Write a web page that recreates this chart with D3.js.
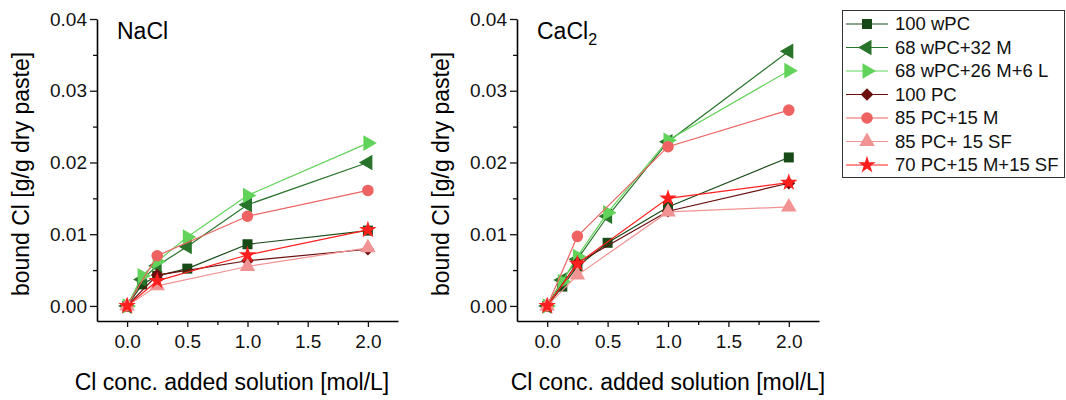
<!DOCTYPE html>
<html>
<head>
<meta charset="utf-8">
<script src="https://cdn.jsdelivr.net/npm/d3@7"></script>
<style>
  body { margin: 0; background: #fff; }
  svg { display: block; font-family: "Liberation Sans", Arial, sans-serif; }
</style>
</head>
<body>
<div id="chart"></div>
<script>
// Series names (legend order)
const seriesNames = ['100 wPC', '68 wPC+32 M', '68 wPC+26 M+6 L', '100 PC', '85 PC+15 M', '85 PC+ 15 SF', '70 PC+15 M+15 SF'];

// Cl concentrations of the added solution [mol/L]
const concWPC = [0, 0.125, 0.25, 0.5, 1.0, 2.0];
const concPC = [0, 0.25, 1.0, 2.0];

// NaCl: bound Cl [g/g dry paste]
const nacl100wPC = [0, 0.0030, 0.0042, 0.0052, 0.0086, 0.0105];
const nacl68wPC32M = [0, 0.0037, 0.0056, 0.0083, 0.0141, 0.0200];
const nacl68wPC26M6L = [0, 0.0042, 0.0062, 0.0096, 0.0154, 0.0227];
const nacl100PC = [0, 0.0043, 0.0063, 0.0079];
const nacl85PC15M = [0, 0.0070, 0.0125, 0.0161];
const nacl85PC15SF = [0, 0.0028, 0.0055, 0.0081];
const nacl70PC15M15SF = [0, 0.0035, 0.0071, 0.0106];

// CaCl2: bound Cl [g/g dry paste]
const cacl100wPC = [0, 0.0027, 0.0055, 0.0088, 0.0138, 0.0207];
const cacl68wPC32M = [0, 0.0036, 0.0065, 0.0125, 0.0229, 0.0355];
const cacl68wPC26M6L = [0, 0.0034, 0.0069, 0.0130, 0.0231, 0.0328];
const cacl100PC = [0, 0.0060, 0.0132, 0.0171];
const cacl85PC15M = [0, 0.0097, 0.0222, 0.0273];
const cacl85PC15SF = [0, 0.0043, 0.0131, 0.0138];
const cacl70PC15M15SF = [0, 0.0059, 0.0150, 0.0172];

// Axis ticks
const xTicks = [0, 0.5, 1.0, 1.5, 2.0];
const xMinor = [0.25, 0.75, 1.25, 1.75];
const yTicks = [0, 0.01, 0.02, 0.03, 0.04];
const yMinor = [0.005, 0.015, 0.025, 0.035];

const colors = ['#174a17', '#27742a', '#62d35a', '#6a0e0e', '#ee6262', '#f29393', '#ff1f1f'];

// marker shapes
function tri(rot) {
  const p = d3.symbol().type(d3.symbolTriangle).size(105)();
  return {path: p, rot: rot};
}
const markers = [
  {path: d3.symbol().type(d3.symbolSquare).size(100)(), rot: 0},
  tri(-90),
  tri(90),
  {path: d3.symbol().type(d3.symbolSquare).size(80)(), rot: 45},
  {path: d3.symbol().type(d3.symbolCircle).size(105)(), rot: 0},
  tri(0),
  {path: d3.symbol().type(d3.symbolStar).size(95)(), rot: 0}
];

const panels = [
  {label: 'NaCl', sub: '', left: 97, right: 398, titleX: 232,
   xs: [concWPC, concWPC, concWPC, concPC, concPC, concPC, concPC],
   ys: [nacl100wPC, nacl68wPC32M, nacl68wPC26M6L, nacl100PC, nacl85PC15M, nacl85PC15SF, nacl70PC15M15SF]},
  {label: 'CaCl', sub: '2', left: 517, right: 819, titleX: 668,
   xs: [concWPC, concWPC, concWPC, concPC, concPC, concPC, concPC],
   ys: [cacl100wPC, cacl68wPC32M, cacl68wPC26M6L, cacl100PC, cacl85PC15M, cacl85PC15SF, cacl70PC15M15SF]}
];

const svg = d3.select('#chart').append('svg')
  .attr('width', 1066)
  .attr('height', 400);

const plotTop = 19, plotBottom = 321;
const y = d3.scaleLinear().domain([-0.0021, 0.04]).range([plotBottom, plotTop]);

panels.forEach((p, pi) => {
  const x = d3.scaleLinear().domain([-0.25, 2.25]).range([p.left, p.right]);
  const g = svg.append('g');

  // y axis
  g.append('g')
    .attr('transform', `translate(${p.left},0)`)
    .call(d3.axisLeft(y).tickValues(yMinor).tickSize(4).tickFormat(''))
    .call(a => a.select('.domain').remove());
  const ya = g.append('g')
    .attr('transform', `translate(${p.left},0)`)
    .call(d3.axisLeft(y).tickValues(yTicks).tickSize(7).tickSizeOuter(0).tickPadding(3).tickFormat(d3.format('.2f')));
  ya.select('.domain').attr('stroke-width', 1.6);

  // x axis
  g.append('g')
    .attr('transform', `translate(0,${plotBottom})`)
    .call(d3.axisBottom(x).tickValues(xMinor).tickSize(4).tickFormat(''))
    .call(a => a.select('.domain').remove());
  const xa = g.append('g')
    .attr('transform', `translate(0,${plotBottom})`)
    .call(d3.axisBottom(x).tickValues(xTicks).tickSize(6).tickSizeOuter(0).tickPadding(8).tickFormat(d3.format('.1f')));
  xa.select('.domain').attr('stroke-width', 1.6);

  g.selectAll('.tick line').attr('stroke', '#111').attr('stroke-width', 1.3);
  g.selectAll('.tick text').style('font-size', '19px').attr('fill', '#111');

  // axis titles
  g.append('text')
    .attr('x', p.titleX)
    .attr('y', 390)
    .attr('text-anchor', 'middle')
    .style('font-size', '23px')
    .text('Cl conc. added solution [mol/L]');

  g.append('text')
    .attr('transform', `translate(${p.left - 68},${(plotTop + plotBottom) / 2 + 4}) rotate(-90)`)
    .attr('text-anchor', 'middle')
    .style('font-size', '23px')
    .text('bound Cl [g/g dry paste]');

  // panel label
  const lab = g.append('text')
    .attr('x', p.left + 20)
    .attr('y', 39)
    .style('font-size', '23px')
    .text(p.label);
  if (p.sub) {
    lab.append('tspan').attr('dy', 6).style('font-size', '16px').text(p.sub);
  }

  // series
  seriesNames.forEach((name, i) => {
    const pts = p.xs[i].map((c, k) => [c, p.ys[i][k]]);
    g.append('path')
      .datum(pts)
      .attr('fill', 'none')
      .attr('stroke', colors[i])
      .attr('stroke-width', 1.2)
      .attr('d', d3.line().x(d => x(d[0])).y(d => y(d[1])));
    g.selectAll(null)
      .data(pts)
      .enter()
      .append('path')
      .attr('d', markers[i].path)
      .attr('transform', d => `translate(${x(d[0])},${y(d[1])}) rotate(${markers[i].rot})`)
      .attr('fill', colors[i]);
  });
});

// legend
const lg = svg.append('g');
lg.append('rect')
  .attr('x', 842.5).attr('y', 10.5)
  .attr('width', 222).attr('height', 167)
  .attr('fill', '#fff')
  .attr('stroke', '#333')
  .attr('stroke-width', 1);

seriesNames.forEach((name, i) => {
  const ry = 24 + i * 23.5;
  lg.append('line')
    .attr('x1', 846).attr('x2', 888)
    .attr('y1', ry).attr('y2', ry)
    .attr('stroke', colors[i])
    .attr('stroke-width', 1.2);
  lg.append('path')
    .attr('d', markers[i].path)
    .attr('transform', `translate(867,${ry}) rotate(${markers[i].rot})`)
    .attr('fill', colors[i]);
  lg.append('text')
    .attr('x', 895)
    .attr('y', ry)
    .attr('dy', '0.35em')
    .style('font-size', '18.5px')
    .attr('fill', '#111')
    .text(name);
});
</script>
</body>
</html>
